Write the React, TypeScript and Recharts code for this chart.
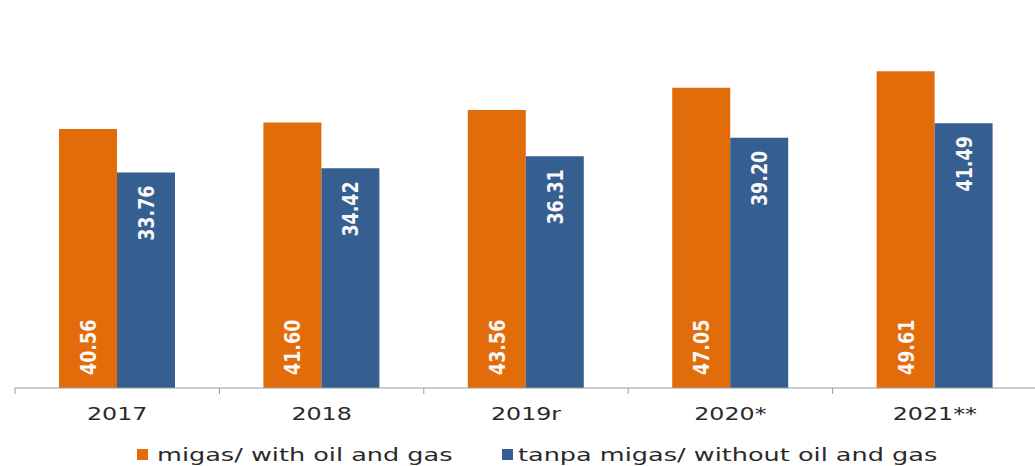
import { Bar, BarChart, LabelList, Legend, XAxis, YAxis } from "recharts";

const years = ["2017", "2018", "2019r", "2020*", "2021**"];
const withOilGas = [40.56, 41.6, 43.56, 47.05, 49.61];
const withoutOilGas = [33.76, 34.42, 36.31, 39.2, 41.49];
const seriesNames = ["migas/ with oil and gas", "tanpa migas/ without oil and gas"];

const colours = {
    orange: "#E36C0A",
    blue: "#365F91",
    text: "#2a2a2a",
    axis: "#9a9a9a",
};

const W = 1035;
const H = 466;
const margin = { top: 5, right: -2, bottom: 0, left: 15 };
const band = (W - margin.left - margin.right) / years.length;
const stretch = 1.25;

const data = years.map((year, i) => ({
    year,
    migas: withOilGas[i],
    nonmigas: withoutOilGas[i],
}));

const fmt = (v) => Number(v).toFixed(2);

const InsideLabel = (props, atTop) => {
    const { x, y, width, height, value } = props;
    const cx = x + width / 2 + 8;
    const ty = atTop ? y + 13 : y + height - 13;
    return (
        <text
            transform={`translate(${cx},${ty}) scale(${stretch},1) rotate(-90)`}
            textAnchor={atTop ? "end" : "start"}
            fill="#f8f8f8"
            fontFamily="DejaVu Sans"
            fontWeight="bold"
            fontSize={17.5}
        >
            {fmt(value)}
        </text>
    );
};

const YearTick = (props) => {
    const { x, y, payload } = props;
    const half = band / 2;
    return (
        <g>
            <line x1={x - half} x2={x - half} y1={y} y2={y + 6} stroke={colours.axis} />
            <text
                transform={`translate(${x},${y + 32}) scale(1.32,1)`}
                textAnchor="middle"
                fill={colours.text}
                fontFamily="DejaVu Sans"
                fontSize={18}
            >
                {payload.value}
            </text>
        </g>
    );
};

const LegendBox = () => (
    <svg width={W} height={30} style={{ display: "block" }}>
        <rect x={137} y={13} width={11} height={11} fill={colours.orange} />
        <text transform="translate(157,25) scale(1.42,1)" fill={colours.text} fontFamily="DejaVu Sans" fontSize={18}>
            {seriesNames[0]}
        </text>
        <rect x={502} y={13} width={11} height={11} fill={colours.blue} />
        <text transform="translate(518,25) scale(1.42,1)" fill={colours.text} fontFamily="DejaVu Sans" fontSize={18}>
            {seriesNames[1]}
        </text>
    </svg>
);

export default function App() {
    return (
        <div style={{ position: "absolute", left: 0, top: 0, width: W, height: H, background: "#fff", overflow: "hidden" }}>
            <BarChart width={W} height={H} data={data} margin={margin} barGap={0}>
                <XAxis
                    dataKey="year"
                    height={78}
                    tickLine={false}
                    tickSize={0}
                    tickMargin={0}
                    interval={0}
                    axisLine={{ stroke: colours.axis }}
                    tick={YearTick}
                />
                <YAxis
                    domain={[0, 60]}
                    width={0}
                    tick={false}
                    tickLine={false}
                    axisLine={{ stroke: "#f9e2e2", strokeWidth: 3 }}
                />
                <Bar dataKey="migas" name={seriesNames[0]} fill={colours.orange} barSize={58} isAnimationActive={false}>
                    <LabelList dataKey="migas" content={(p) => InsideLabel(p, false)} />
                </Bar>
                <Bar dataKey="nonmigas" name={seriesNames[1]} fill={colours.blue} barSize={58} isAnimationActive={false}>
                    <LabelList dataKey="nonmigas" content={(p) => InsideLabel(p, true)} />
                </Bar>
                <Legend
                    layout="horizontal"
                    verticalAlign="middle"
                    align="center"
                    wrapperStyle={{ position: "absolute", left: 0, top: 436, width: W }}
                    content={LegendBox}
                />
            </BarChart>
        </div>
    );
}
